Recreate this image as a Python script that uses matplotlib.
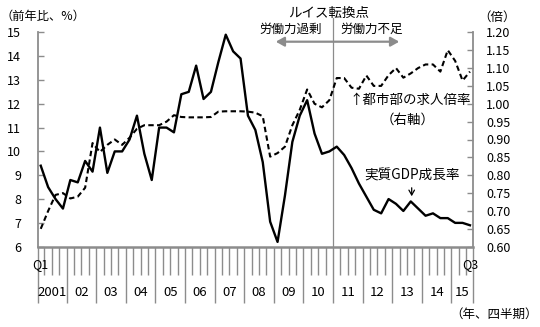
import matplotlib
matplotlib.use("Agg")
import matplotlib.pyplot as plt
import matplotlib.transforms as mtransforms
import numpy as np

plt.rcParams['font.family'] = ['Noto Sans CJK JP', 'DejaVu Sans']

years = ['2001', '02', '03', '04', '05', '06', '07', '08', '09', '10', '11', '12', '13', '14', '15']
gdp = [9.4, 8.5, 8.0, 7.6,
       8.8, 8.7, 9.6, 9.15,
       11.0, 9.1, 10.0, 10.0,
       10.5, 11.5, 9.9, 8.8,
       11.0, 11.0, 10.8, 12.4,
       12.5, 13.6, 12.2, 12.5,
       13.75, 14.9, 14.2, 13.9,
       11.5, 10.9, 9.55, 7.05,
       6.2, 8.15, 10.4, 11.5,
       12.15, 10.75, 9.9, 10.0,
       10.2, 9.85, 9.3, 8.65,
       8.1, 7.55, 7.4, 8.0,
       7.8, 7.5, 7.9, 7.6,
       7.3, 7.4, 7.2, 7.2,
       7.0, 7.0, 6.9]
jobs = [0.65, 0.70, 0.745, 0.75,
        0.735, 0.74, 0.765, 0.89,
        0.865, 0.885, 0.90, 0.885,
        0.905, 0.93, 0.94, 0.94,
        0.94, 0.95, 0.968, 0.963,
        0.962, 0.962, 0.962, 0.963,
        0.978, 0.979, 0.979, 0.979,
        0.978, 0.975, 0.965, 0.852,
        0.862, 0.88, 0.94, 0.983,
        1.04, 1.0, 0.99, 1.01,
        1.072, 1.072, 1.045, 1.042,
        1.079, 1.05, 1.05, 1.08,
        1.10, 1.073, 1.085, 1.10,
        1.11, 1.11, 1.09, 1.15,
        1.12, 1.065, 1.09]
left_ticks = [6, 7, 8, 9, 10, 11, 12, 13, 14, 15]
right_ticks = [0.60, 0.65, 0.70, 0.75, 0.80, 0.85, 0.90, 0.95, 1.00, 1.05, 1.10, 1.15, 1.20]
lewis_index = 40  # 2011Q1

W, H = 540, 327
fig = plt.figure(figsize=(W / 100, H / 100), dpi=100)
L, R, T, B = 38, 472.7, 32.3, 246.7
ax = fig.add_axes([L / W, 1 - B / H, (R - L) / W, (B - T) / H])
ax2 = ax.twinx()

n = len(gdp)
x = np.arange(n)
xmin, xmax = -0.37, n - 1 + 0.37

ax.plot(x, gdp, color='black', lw=1.7, zorder=3)
ax2.plot(x, jobs, color='black', lw=1.5, linestyle=(0, (2.6, 1.6)), zorder=3)

ax.set_xlim(xmin, xmax)
ax.set_ylim(6, 15)
ax2.set_ylim(0.6, 1.2)
ax.set_yticks(left_ticks)
ax.set_yticklabels([str(v) for v in left_ticks])
ax2.set_yticks(right_ticks)
ax2.set_yticklabels([f'{v:.2f}' for v in right_ticks])

gray = '#8c8c8c'
for a in (ax, ax2):
    for s in a.spines.values():
        s.set_visible(False)
ax.spines['left'].set_visible(True)
ax.spines['left'].set_color(gray)
ax.spines['left'].set_linewidth(1.3)
ax.spines['bottom'].set_visible(True)
ax.spines['bottom'].set_color(gray)
ax.spines['bottom'].set_linewidth(1.8)
ax2.spines['right'].set_visible(True)
ax2.spines['right'].set_color(gray)
ax2.spines['right'].set_linewidth(1.3)

ax.tick_params(axis='y', direction='in', length=4, width=1, color=gray,
               labelsize=9, pad=12)
ax2.tick_params(axis='y', direction='in', length=4, width=1, color=gray,
                labelsize=9, pad=9.5)

# quarter boundaries (minor) and year boundaries (major)
year_bounds = [xmin] + [4 * k - 0.5 for k in range(1, len(years))] + [xmax]
quarter_bounds = [k - 0.5 for k in range(1, n)]
ax.set_xticks(year_bounds)
ax.set_xticklabels([])
ax.set_xticks(quarter_bounds, minor=True)
ax.tick_params(axis='x', which='major', direction='out', length=40, width=1, color=gray)
ax.tick_params(axis='x', which='minor', direction='out', length=20.5, width=1, color=gray)

trans = mtransforms.blended_transform_factory(ax.transData, ax.transAxes)
for k, yl in enumerate(years):
    c = (year_bounds[k] + year_bounds[k + 1]) / 2
    ax.text(c, -46 / (B - T), yl, transform=trans, ha='center', va='center', fontsize=9.5)
ax.text(0, -18 / (B - T), 'Q1', transform=trans, ha='center', va='center', fontsize=9)
ax.text(n - 1, -18 / (B - T), 'Q3', transform=trans, ha='center', va='center', fontsize=9)

# Lewis turning point line
lx = lewis_index - 0.5
ax.plot([lx, lx], [0, 1 + 14 / (B - T)], transform=trans, color=gray, lw=0.9,
        clip_on=False, zorder=2)

def fx(px):
    return px / W

def fy(py):
    return 1 - py / H

fig.text(fx(0.5), fy(16.5), '（前年比、%）', ha='left', va='center', fontsize=8.8)
fig.text(fx(478), fy(17), '（倍）', ha='left', va='center', fontsize=9)
fig.text(fx(538), fy(314), '（年、四半期）', ha='right', va='center', fontsize=9)
fig.text(fx(329), fy(13), 'ルイス転換点', ha='center', va='center', fontsize=9.7)
fig.text(fx(291), fy(29.5), '労働力過剰', ha='center', va='center', fontsize=9)
fig.text(fx(371.5), fy(29.5), '労働力不足', ha='center', va='center', fontsize=9)
fig.text(fx(349), fy(100), '↑都市部の求人倍率', ha='left', va='center', fontsize=9.7)
fig.text(fx(408), fy(120), '（右軸）', ha='center', va='center', fontsize=9.7)
fig.text(fx(411.7), fy(176), '実質GDP成長率', ha='center', va='center', fontsize=9.8)

# double-headed arrow
fig.patches.append(matplotlib.patches.FancyArrowPatch(
    (fx(273), fy(41.7)), (fx(402), fy(41.7)), transform=fig.transFigure,
    arrowstyle='<|-|>,head_length=5,head_width=2.8', color=gray, lw=1.6,
    mutation_scale=1))
# GDP arrow
fig.patches.append(matplotlib.patches.FancyArrowPatch(
    (fx(411.7), fy(185)), (fx(411.7), fy(199)), transform=fig.transFigure,
    arrowstyle='->,head_length=3.5,head_width=2', color='black', lw=0.9,
    mutation_scale=1))

fig.savefig('out.png', dpi=100)
